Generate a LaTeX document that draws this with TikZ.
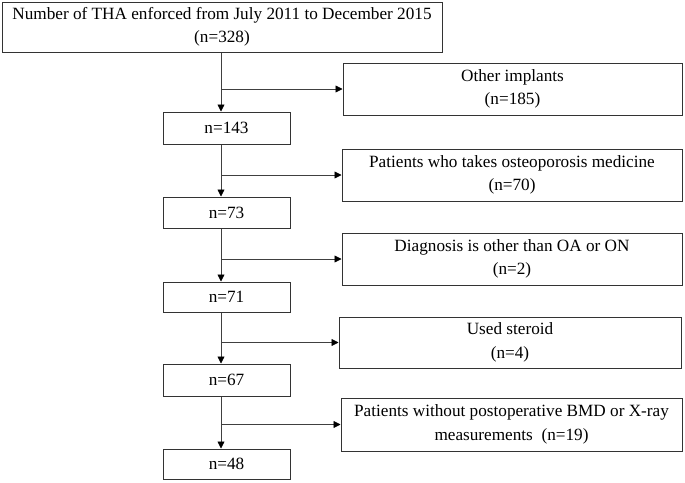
\documentclass[tikz,border=0pt]{standalone}
\usepackage{fontspec}
\setmainfont{Liberation Serif}
\usetikzlibrary{arrows.meta}
\begin{document}
\begin{tikzpicture}[x=1pt,y=-1pt,
  box/.style={draw=black!80,line width=1pt,inner sep=0pt,align=center,
    font=\fontsize{17.2}{23.5}\selectfont},
  conn/.style={draw=black!75,line width=0.8pt},
  arr/.style={conn,-{Triangle[length=7pt,width=7pt,fill=black,color=black]}}]
\useasboundingbox (0,0) rectangle (685,482);
\node[box,minimum width=440pt,minimum height=50pt] (top) at (222,27)
  {Number of THA enforced from July 2011 to December 2015\\(n=328)};
\node[box,minimum width=127pt,minimum height=32pt] (n143) at (226.5,128) {n=143};
\node[box,minimum width=127pt,minimum height=31pt] (n73) at (226.5,212.5) {n=73};
\node[box,minimum width=127pt,minimum height=30pt] (n71) at (226.5,297) {n=71};
\node[box,minimum width=127pt,minimum height=32pt] (n67) at (226.5,380) {n=67};
\node[box,minimum width=127pt,minimum height=30pt] (n48) at (226.5,464) {n=48};
\node[box,minimum width=339pt,minimum height=52pt] (other) at (512.5,89) {Other implants\\(n=185)};
\node[box,minimum width=340pt,minimum height=52pt] (osteo) at (512,175) {Patients who takes osteoporosis medicine\\(n=70)};
\node[box,minimum width=340pt,minimum height=52pt] (diag) at (512,259) {Diagnosis is other than OA or ON\\(n=2)};
\node[box,minimum width=342pt,minimum height=51pt] (ster) at (510,342.5) {Used steroid\\(n=4)};
\node[box,minimum width=341pt,minimum height=53pt] (bmd) at (511.5,424.5) {Patients without postoperative BMD or X-ray\\measurements\ \ (n=19)};
\coordinate (spine) at (221,0);
\draw[arr] (top.south -| spine) -- (n143.north -| spine);
\draw[arr] (n143.south -| spine) -- (n73.north -| spine);
\draw[arr] (n73.south -| spine) -- (n71.north -| spine);
\draw[arr] (n71.south -| spine) -- (n67.north -| spine);
\draw[arr] (n67.south -| spine) -- (n48.north -| spine);
\draw[arr] (spine |- other.west) -- (other.west);
\draw[arr] (spine |- osteo.west) -- (osteo.west);
\draw[arr] (spine |- diag.west) -- (diag.west);
\draw[arr] (spine |- ster.west) -- (ster.west);
\draw[arr] (spine |- bmd.west) -- (bmd.west);
\end{tikzpicture}
\end{document}
